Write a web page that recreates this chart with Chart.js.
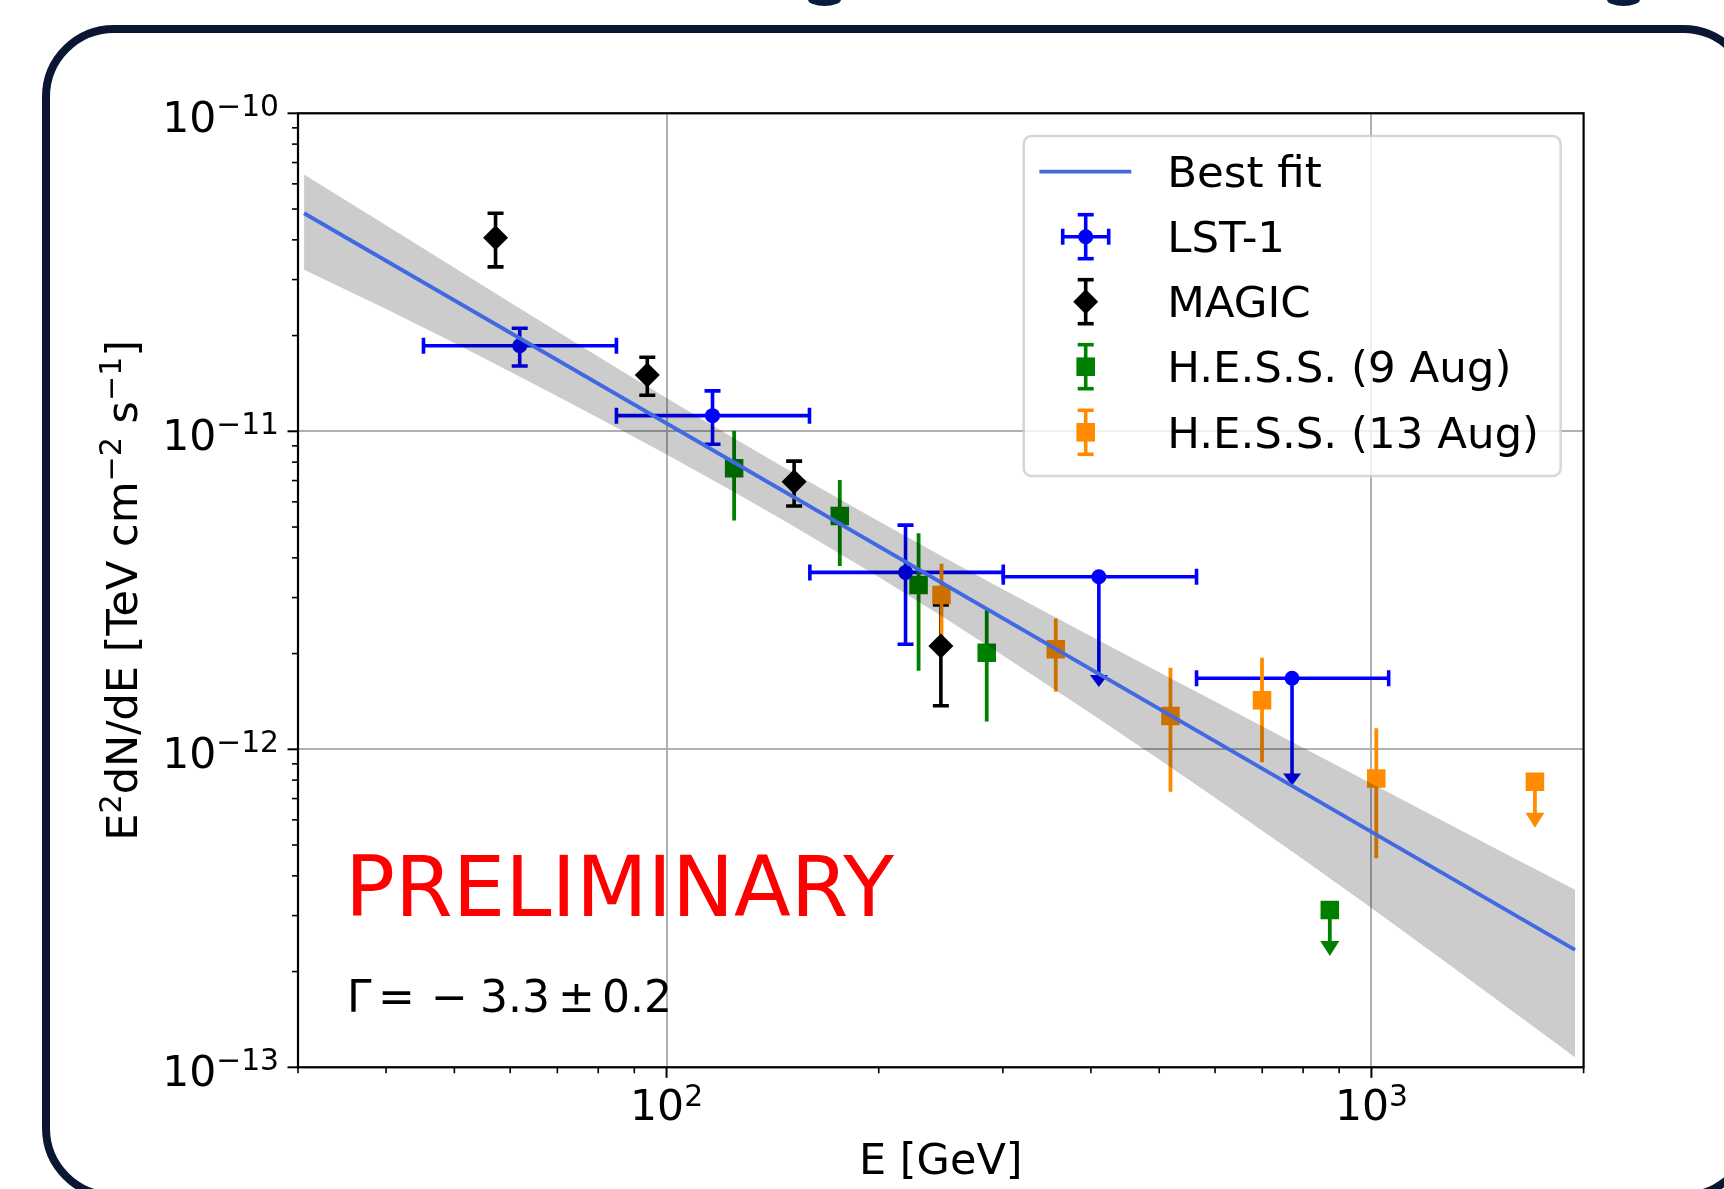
<!DOCTYPE html>
<html><head><meta charset="utf-8">
<script src="https://cdn.jsdelivr.net/npm/chart.js@4"></script>
<style>
html,body{margin:0;padding:0;background:#fff;overflow:hidden;width:1724px;height:1189px;}
#frame{position:absolute;left:42px;top:25px;width:1713px;height:1175px;box-sizing:border-box;border:8.5px solid #0b1632;border-radius:72px;}
.blob{position:absolute;top:-7px;width:33px;height:13px;border-radius:50%;background:#0b1a3d;}
#wrap{position:absolute;left:0;top:0;width:1724px;height:1189px;}
</style></head><body>
<div id="frame"></div>
<div class="blob" style="left:808px"></div>
<div class="blob" style="left:1607px"></div>
<div id="wrap"><canvas id="c" width="1724" height="1189"></canvas></div>
<script>
// ---------------- data ----------------
// LST-1 (E in GeV, E^2 dN/dE in TeV cm^-2 s^-1)
const lstE    = [61.9, 116.2, 218.3, 410.5, 771.6];
const lstElo  = [45.2, 84.9, 159.7, 300.4, 564.8];
const lstEhi  = [84.9, 159.5, 300.4, 564.8, 1058];
const lstF    = [1.858e-11, 1.12e-11, 3.60e-12, 3.49e-12, 1.673e-12];
const lstFlo  = [1.604e-11, 9.1e-12, 2.14e-12, 1.57e-12, 7.7e-13];
const lstFhi  = [2.11e-11, 1.34e-11, 5.07e-12, null, null];
const lstUL   = [false, false, false, true, true];
// MAGIC
const magicE   = [57.2, 93.9, 151.7, 245.0];
const magicF   = [4.06e-11, 1.503e-11, 6.94e-12, 2.113e-12];
const magicFlo = [3.29e-11, 1.298e-11, 5.82e-12, 1.371e-12];
const magicFhi = [4.85e-11, 1.709e-11, 8.06e-12, 2.843e-12];
// H.E.S.S. (9 Aug)
const hess9E   = [124.7, 176.1, 227.8, 284.6, 872.9];
const hess9F   = [7.65e-12, 5.42e-12, 3.285e-12, 2.013e-12, 3.125e-13];
const hess9Flo = [5.24e-12, 3.77e-12, 1.767e-12, 1.222e-12, 2.24e-13];
const hess9Fhi = [1.004e-11, 7.03e-12, 4.78e-12, 2.74e-12, null];
const hess9UL  = [false, false, false, false, true];
// H.E.S.S. (13 Aug)
const hess13E   = [245.5, 356.6, 518.7, 699.5, 1016, 1706];
const hess13F   = [3.055e-12, 2.063e-12, 1.273e-12, 1.426e-12, 8.1e-13, 7.91e-13];
const hess13Flo = [2.27e-12, 1.518e-12, 7.36e-13, 9.1e-13, 4.54e-13, 5.67e-13];
const hess13Fhi = [3.83e-12, 2.58e-12, 1.805e-12, 1.94e-12, 1.164e-12, null];
const hess13UL  = [false, false, false, false, false, true];
// Best fit and its error band
const fitE = [30.6, 1945];
const fitF = [4.85e-11, 2.34e-13];
const bandE  = [30.6, 40, 50, 60, 70, 85, 100, 125, 150, 200, 250, 300, 400, 500, 600, 800, 1000, 1250, 1500, 1945];
const bandHi = [6.42e-11, 4.447e-11, 3.266e-11, 2.541e-11, 2.059e-11, 1.582e-11, 1.273e-11, 9.48e-12, 7.49e-12, 5.21e-12,
                3.965e-12, 3.186e-12, 2.269e-12, 1.747e-12, 1.414e-12, 1.012e-12, 7.81e-13, 6.03e-13, 4.88e-13, 3.62e-13];
const bandLo = [3.22e-11, 2.426e-11, 1.894e-11, 1.539e-11, 1.289e-11, 1.026e-11, 8.45e-12, 6.42e-12, 5.09e-12, 3.48e-12,
                2.559e-12, 1.974e-12, 1.297e-12, 9.29e-13, 7.04e-13, 4.51e-13, 3.17e-13, 2.21e-13, 1.643e-13, 1.075e-13];
// axes
const xRange = [30, 2000];
const yRange = [1e-13, 1e-10];
const xMajor = [100, 1000];
const xMajorExp = ['2', '3'];
const yMajor = [1e-13, 1e-12, 1e-11, 1e-10];
const yMajorExp = ['\u221213', '\u221212', '\u221211', '\u221210'];
const legendLabels = ['Best fit', 'LST-1', 'MAGIC', 'H.E.S.S. (9 Aug)', 'H.E.S.S. (13 Aug)'];

// ---------------- styles ----------------
const FONT = "'DejaVu Sans', 'Liberation Sans', sans-serif";
const C_LST = '#0000ff', C_MAGIC = '#000000', C_H9 = '#008000', C_H13 = '#ff8c00', C_FIT = '#4169e1';
const EBW = 3.6;
const pts = (xs, ys) => xs.map((x, i) => ({x: x, y: ys[i]}));

function line(ctx, x1, y1, x2, y2, color, w) {
  ctx.save(); ctx.strokeStyle = color; ctx.lineWidth = w; ctx.lineCap = 'butt';
  ctx.beginPath(); ctx.moveTo(x1, y1); ctx.lineTo(x2, y2); ctx.stroke(); ctx.restore();
}
function arrowDown(ctx, x, y0, tip, color, lw, hw, hh) {
  line(ctx, x, y0, x, tip - hh + 1, color, lw);
  ctx.save(); ctx.fillStyle = color; ctx.beginPath();
  ctx.moveTo(x - hw / 2, tip - hh); ctx.lineTo(x + hw / 2, tip - hh); ctx.lineTo(x, tip); ctx.closePath(); ctx.fill(); ctx.restore();
}
function partsWidth(ctx, parts, size) {
  let w = 0;
  for (const p of parts) { ctx.font = (p.sup ? size * 0.7 : size) + 'px ' + FONT; w += ctx.measureText(p.t).width; }
  return w;
}
function drawParts(ctx, parts, x, y, size, color, supShift) {
  ctx.save(); ctx.fillStyle = color; ctx.textAlign = 'left'; ctx.textBaseline = 'alphabetic';
  for (const p of parts) {
    ctx.font = (p.sup ? size * 0.7 : size) + 'px ' + FONT;
    ctx.fillText(p.t, x, p.sup ? y - supShift : y);
    x += ctx.measureText(p.t).width;
  }
  ctx.restore();
}

const errorBars = {
  id: 'errorBars',
  beforeDatasetsDraw(chart) {
    const ctx = chart.ctx, sx = chart.scales.x, sy = chart.scales.y;
    const X = v => sx.getPixelForValue(v), Y = v => sy.getPixelForValue(v);
    ctx.save();
    ctx.beginPath(); ctx.rect(chart.chartArea.left, chart.chartArea.top, chart.chartArea.width, chart.chartArea.height); ctx.clip();
    // LST-1
    lstE.forEach((e, i) => {
      const cx = X(e), cy = Y(lstF[i]);
      const xl = X(lstElo[i]), xr = X(lstEhi[i]);
      line(ctx, xl, cy, xr, cy, C_LST, EBW);
      line(ctx, xl, cy - 8, xl, cy + 8, C_LST, EBW);
      line(ctx, xr, cy - 8, xr, cy + 8, C_LST, EBW);
      if (lstUL[i]) {
        arrowDown(ctx, cx, cy, Y(lstFlo[i]), C_LST, EBW, 18, 12);
      } else {
        const yt = Y(lstFhi[i]), yb = Y(lstFlo[i]);
        line(ctx, cx, yt, cx, yb, C_LST, EBW);
        line(ctx, cx - 8, yt, cx + 8, yt, C_LST, EBW);
        line(ctx, cx - 8, yb, cx + 8, yb, C_LST, EBW);
      }
    });
    // MAGIC
    magicE.forEach((e, i) => {
      const cx = X(e), yt = Y(magicFhi[i]), yb = Y(magicFlo[i]);
      line(ctx, cx, yt, cx, yb, C_MAGIC, EBW);
      line(ctx, cx - 8, yt, cx + 8, yt, C_MAGIC, EBW);
      line(ctx, cx - 8, yb, cx + 8, yb, C_MAGIC, EBW);
    });
    // H.E.S.S.
    const hess = (E, F, lo, hi, ul, col) => E.forEach((e, i) => {
      const cx = X(e), cy = Y(F[i]);
      if (ul[i]) arrowDown(ctx, cx, cy, Y(lo[i]), col, 3.8, 19, 15);
      else line(ctx, cx, Y(hi[i]), cx, Y(lo[i]), col, 3.8);
    });
    hess(hess9E, hess9F, hess9Flo, hess9Fhi, hess9UL, C_H9);
    hess(hess13E, hess13F, hess13Flo, hess13Fhi, hess13UL, C_H13);
    ctx.restore();
  }
};

const decorations = {
  id: 'decorations',
  afterDatasetsDraw(chart) {
    const ctx = chart.ctx, sx = chart.scales.x, sy = chart.scales.y, a = chart.chartArea;
    const X = v => sx.getPixelForValue(v), Y = v => sy.getPixelForValue(v);
    // spines
    ctx.save(); ctx.strokeStyle = '#000'; ctx.lineWidth = 2.2;
    ctx.strokeRect(a.left, a.top, a.right - a.left, a.bottom - a.top); ctx.restore();
    // ticks
    const tickL = 10.5, minorL = 6;
    xMajor.forEach(v => line(ctx, X(v), a.bottom, X(v), a.bottom + tickL, '#000', 2));
    [10, 100, 1000].forEach(d => { for (let m = 2; m <= 9; m++) { const v = m * d; if (v >= xRange[0] && v <= xRange[1]) line(ctx, X(v), a.bottom, X(v), a.bottom + minorL, '#000', 1.6); } });
    yMajor.forEach(v => line(ctx, a.left, Y(v), a.left - tickL, Y(v), '#000', 2));
    [1e-13, 1e-12, 1e-11].forEach(d => { for (let m = 2; m <= 9; m++) { const v = m * d; line(ctx, a.left, Y(v), a.left - minorL, Y(v), '#000', 1.6); } });
    // tick labels
    const TS = 42.5;
    yMajor.forEach((v, i) => {
      const parts = [{t: '10'}, {t: yMajorExp[i], sup: 1}];
      const w = partsWidth(ctx, parts, TS);
      drawParts(ctx, parts, a.left - 19 - w, Y(v) + 19, TS, '#000', 16);
    });
    xMajor.forEach((v, i) => {
      const parts = [{t: '10'}, {t: xMajorExp[i], sup: 1}];
      const w = partsWidth(ctx, parts, TS);
      drawParts(ctx, parts, X(v) - w / 2, a.bottom + 53, TS, '#000', 14);
    });
    // axis titles
    const AS = 43;
    ctx.save(); ctx.font = AS + 'px ' + FONT; ctx.fillStyle = '#000'; ctx.textAlign = 'center';
    ctx.fillText('E [GeV]', (a.left + a.right) / 2, 1174); ctx.restore();
    const yt = [{t: 'E'}, {t: '2', sup: 1}, {t: 'dN/dE [TeV cm'}, {t: '\u22122', sup: 1}, {t: ' s'}, {t: '\u22121', sup: 1}, {t: ']'}];
    const yw = partsWidth(ctx, yt, AS);
    ctx.save(); ctx.translate(136.5, (a.top + a.bottom) / 2 + yw / 2); ctx.rotate(-Math.PI / 2);
    drawParts(ctx, yt, 0, 0, AS, '#000', 16); ctx.restore();
    // annotations
    ctx.save(); ctx.fillStyle = '#ff0000'; ctx.font = '83px ' + FONT; ctx.textAlign = 'left';
    ctx.fillText('PRELIMINARY', 345, 916); ctx.restore();
    ctx.save(); ctx.fillStyle = '#000'; ctx.font = '44px ' + FONT; ctx.textAlign = 'left';
    ctx.fillText('\u0393', 347, 1012); ctx.fillText('=', 378, 1012); ctx.fillText('\u2212', 431, 1012);
    ctx.fillText('3.3', 480, 1012); ctx.fillText('\u00b1', 558, 1012); ctx.fillText('0.2', 602, 1012);
    ctx.restore();
    // legend
    ctx.save();
    ctx.beginPath(); ctx.roundRect(1023.7, 136, 537, 340, 8);
    ctx.fillStyle = 'rgba(255,255,255,0.8)'; ctx.fill();
    ctx.strokeStyle = 'rgba(204,204,204,0.8)'; ctx.lineWidth = 2.5; ctx.stroke();
    ctx.restore();
    const rows = [171.7, 236.7, 301.7, 366.7, 432.3], mx = 1085.7, tx = 1167.2;
    line(ctx, 1039.4, rows[0], 1131.3, rows[0], C_FIT, 3.8);
    // LST legend marker
    let cy = rows[1];
    line(ctx, mx - 23, cy, mx + 23, cy, C_LST, EBW);
    line(ctx, mx - 23, cy - 8, mx - 23, cy + 8, C_LST, EBW);
    line(ctx, mx + 23, cy - 8, mx + 23, cy + 8, C_LST, EBW);
    line(ctx, mx, cy - 22, mx, cy + 22, C_LST, EBW);
    line(ctx, mx - 8, cy - 22, mx + 8, cy - 22, C_LST, EBW);
    line(ctx, mx - 8, cy + 22, mx + 8, cy + 22, C_LST, EBW);
    ctx.save(); ctx.fillStyle = C_LST; ctx.beginPath(); ctx.arc(mx, cy, 7.5, 0, 2 * Math.PI); ctx.fill(); ctx.restore();
    // MAGIC and HESS legend markers
    [[rows[2], C_MAGIC, 'd'], [rows[3], C_H9, 's'], [rows[4], C_H13, 's']].forEach(([y, col, shape]) => {
      line(ctx, mx, y - 22, mx, y + 22, col, EBW);
      line(ctx, mx - 8, y - 22, mx + 8, y - 22, col, EBW);
      line(ctx, mx - 8, y + 22, mx + 8, y + 22, col, EBW);
      ctx.save(); ctx.fillStyle = col; ctx.beginPath();
      if (shape === 'd') { ctx.moveTo(mx, y - 12.5); ctx.lineTo(mx + 12.5, y); ctx.lineTo(mx, y + 12.5); ctx.lineTo(mx - 12.5, y); ctx.closePath(); }
      else ctx.rect(mx - 9.3, y - 9.3, 18.6, 18.6);
      ctx.fill(); ctx.restore();
    });
    ctx.save(); ctx.fillStyle = '#000'; ctx.font = '43.5px ' + FONT; ctx.textAlign = 'left';
    legendLabels.forEach((l, i) => ctx.fillText(l, tx, rows[i] + 15.3));
    ctx.restore();
  }
};

const scaleCommon = {
  type: 'logarithmic',
  ticks: {display: false},
  grid: {color: '#b0b0b0', lineWidth: 2, drawTicks: false},
  border: {display: false},
  title: {display: false}
};

new Chart(document.getElementById('c'), {
  type: 'scatter',
  data: {
    datasets: [
      {label: 'band upper', data: pts(bandE, bandHi), showLine: true, pointRadius: 0, borderWidth: 1, borderColor: 'rgba(0,0,0,0)',
       backgroundColor: 'rgba(0,0,0,0.2)', fill: '+1', order: 1, tension: 0},
      {label: 'band lower', data: pts(bandE, bandLo), showLine: true, pointRadius: 0, borderWidth: 1, borderColor: 'rgba(0,0,0,0)',
       fill: false, order: 1, tension: 0},
      {label: 'Best fit', data: pts(fitE, fitF), showLine: true, pointRadius: 0, borderColor: C_FIT, borderWidth: 3.8, fill: false, order: 0},
      {label: 'LST-1', data: pts(lstE, lstF), pointStyle: 'circle', pointRadius: 7.5, backgroundColor: C_LST, borderWidth: 0, order: 5},
      {label: 'MAGIC', data: pts(magicE, magicF), pointStyle: 'rectRot', pointRadius: 12.5, backgroundColor: C_MAGIC, borderWidth: 0, order: 5},
      {label: 'H.E.S.S. (9 Aug)', data: pts(hess9E, hess9F), pointStyle: 'rect', pointRadius: 13.1, backgroundColor: C_H9, borderWidth: 0, order: 5},
      {label: 'H.E.S.S. (13 Aug)', data: pts(hess13E, hess13F), pointStyle: 'rect', pointRadius: 13.1, backgroundColor: C_H13, borderWidth: 0, order: 5}
    ]
  },
  options: {
    responsive: false, animation: false, devicePixelRatio: 1, events: [],
    layout: {padding: {left: 298, top: 113.3, right: 140.4, bottom: 121.7}},
    plugins: {legend: {display: false}, tooltip: {enabled: false}},
    scales: {
      x: Object.assign({}, scaleCommon, {min: xRange[0], max: xRange[1],
        afterBuildTicks: s => { s.ticks = xMajor.map(v => ({value: v})); },
        afterFit: s => { s.height = 0; }}),
      y: Object.assign({}, scaleCommon, {min: yRange[0], max: yRange[1],
        afterBuildTicks: s => { s.ticks = yMajor.map(v => ({value: v})); },
        afterFit: s => { s.width = 0; }})
    }
  },
  plugins: [errorBars, decorations]
});
</script></body></html>
